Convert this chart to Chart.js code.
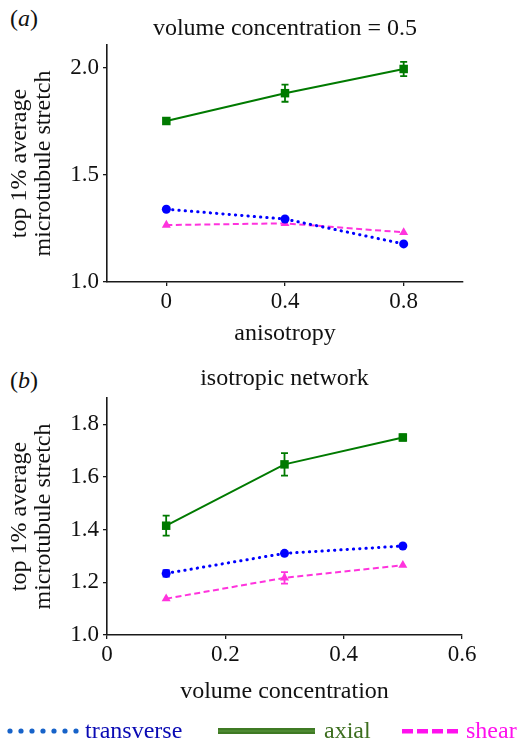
<!DOCTYPE html>
<html>
<head>
<meta charset="utf-8">
<script src="https://cdn.jsdelivr.net/npm/chart.js@4.4.1/dist/chart.umd.min.js"></script>
<style>
  html, body { margin: 0; padding: 0; background: #fff; }
  body { width: 519px; height: 747px; position: relative; overflow: hidden; font-family: "Liberation Serif", "DejaVu Serif", serif; }
  canvas { position: absolute; left: 0; }
  #ca { top: 0; }
  #cb { top: 346px; }
  .plab { position: absolute; left: 10px; font-size: 24px; color: #111; line-height: 24px; }
  .plab i { font-style: italic; }
  #legend { position: absolute; left: 0; top: 717px; width: 519px; height: 28px; }
  #legend span { position: absolute; top: 0; font-size: 24px; line-height: 26px; }
  #legend svg { position: absolute; top: 0; }
</style>
</head>
<body>
<div class="plab" style="top:6px">(<i>a</i>)</div>
<div class="plab" style="top:368px">(<i>b</i>)</div>
<canvas id="ca" width="519" height="348"></canvas>
<canvas id="cb" width="519" height="360"></canvas>
<div id="legend">
  <svg width="80" height="28" style="left:3px">
    <g fill="#1763c9">
      <circle cx="7" cy="14" r="2.6"/><circle cx="18" cy="14" r="2.6"/><circle cx="29" cy="14" r="2.6"/>
      <circle cx="40" cy="14" r="2.6"/><circle cx="51" cy="14" r="2.6"/><circle cx="62" cy="14" r="2.6"/>
      <circle cx="73" cy="14" r="2.6"/>
    </g>
  </svg>
  <span style="left:85px;color:#0a0ab4">transverse</span>
  <svg width="100" height="28" style="left:217px">
    <rect x="1" y="11" width="97" height="6" fill="#3f7a24"/>
    <line x1="1" y1="14" x2="98" y2="14" stroke="#5e9a40" stroke-width="1"/>
  </svg>
  <span style="left:324px;color:#3d6e1f">axial</span>
  <svg width="60" height="28" style="left:402px">
    <g fill="#ff10ee">
      <rect x="0" y="12" width="11" height="4.5"/><rect x="15" y="12" width="11" height="4.5"/>
      <rect x="30" y="12" width="11" height="4.5"/><rect x="45" y="12" width="11" height="4.5"/>
    </g>
  </svg>
  <span style="left:466px;color:#ff10ee">shear</span>
</div>
<script>
// ---- Data ----
const anisotropy = [0, 0.4, 0.8];
const aTransverse = [1.340, 1.294, 1.178];
const aTransverseErr = [0.005, 0.005, 0.005];
const aAxial = [1.752, 1.882, 1.995];
const aAxialErr = [0.006, 0.040, 0.033];
const aShear = [1.266, 1.274, 1.232];
const aShearErr = [0.004, 0.004, 0.004];

const volumeConcentration = [0.1, 0.3, 0.5];
const bTransverse = [1.234, 1.310, 1.338];
const bTransverseErr = [0.012, 0.006, 0.005];
const bAxial = [1.415, 1.648, 1.750];
const bAxialErr = [0.038, 0.043, 0.012];
const bShear = [1.138, 1.217, 1.265];
const bShearErr = [0.005, 0.022, 0.005];

const aXTicks = [0, 0.4, 0.8];
const aYTicks = [1.0, 1.5, 2.0];
const bXTicks = [0, 0.2, 0.4, 0.6];
const bYTicks = [1.0, 1.2, 1.4, 1.6, 1.8];

const colTransverse = '#0000ff';
const colAxial = '#007a00';
const colShear = '#ff33dd';
const FONT = '"Liberation Serif", "Times New Roman", serif';

function pts(xs, ys) { return xs.map((x, i) => ({ x: x, y: ys[i] })); }

const errorBars = {
  id: 'errorBars',
  afterDatasetsDraw(chart) {
    const ctx = chart.ctx;
    const xs = chart.scales.x, ys = chart.scales.y;
    chart.data.datasets.forEach((ds) => {
      if (!ds.err) return;
      ctx.save();
      ctx.strokeStyle = ds.borderColor;
      ctx.lineWidth = 1.8;
      ds.data.forEach((p, i) => {
        const e = ds.err[i];
        const px = xs.getPixelForValue(p.x);
        const y1 = ys.getPixelForValue(p.y + e);
        const y2 = ys.getPixelForValue(p.y - e);
        if (Math.abs(y2 - y1) < 4) return;
        ctx.beginPath();
        ctx.moveTo(px, y1); ctx.lineTo(px, y2);
        ctx.moveTo(px - 3.5, y1); ctx.lineTo(px + 3.5, y1);
        ctx.moveTo(px - 3.5, y2); ctx.lineTo(px + 3.5, y2);
        ctx.stroke();
      });
      ctx.restore();
    });
  }
};

function datasets(xs, tr, trE, ax, axE, sh, shE) {
  return [
    { label: 'transverse', data: pts(xs, tr), err: trE, borderColor: colTransverse, backgroundColor: colTransverse,
      borderWidth: 3, borderDash: [0.3, 6], borderCapStyle: 'round', pointStyle: 'circle', pointRadius: 4.5, pointBorderWidth: 0 },
    { label: 'axial', data: pts(xs, ax), err: axE, borderColor: colAxial, backgroundColor: colAxial,
      borderWidth: 2, pointStyle: 'rect', pointRadius: 6, pointBorderWidth: 0 },
    { label: 'shear', data: pts(xs, sh), err: shE, borderColor: colShear, backgroundColor: colShear,
      borderWidth: 2, borderDash: [6, 3.5], pointStyle: 'triangle', pointRadius: 5.2, pointBorderWidth: 0 }
  ];
}

function makeChart(id, cfg) {
  const axisCol = '#1a1a1a';
  return new Chart(document.getElementById(id), {
    type: 'line',
    data: { datasets: cfg.datasets },
    plugins: [errorBars],
    options: {
      responsive: false,
      devicePixelRatio: 1,
      animation: false,
      layout: { padding: { left: 0, right: cfg.rightPad, top: 0, bottom: 0 } },
      plugins: {
        legend: { display: false },
        tooltip: { enabled: false },
        title: {
          display: true, text: cfg.title, fullSize: false, color: '#111',
          font: { family: FONT, size: 24, weight: 'normal', lineHeight: 1.2 },
          padding: { top: cfg.titlePadTop, bottom: cfg.titlePadBottom }
        }
      },
      scales: {
        x: {
          type: 'linear', min: cfg.xMin, max: cfg.xMax,
          afterBuildTicks: (s) => { s.ticks = cfg.xTicks.map(v => ({ value: v })); },
          afterFit: (s) => { s.height = cfg.xHeight; },
          ticks: { color: '#111', padding: 2, font: { family: FONT, size: 23 }, maxRotation: 0,
                   callback: (v) => (v === 0 ? '0' : Number(v).toFixed(1)) },
          grid: { display: true, drawOnChartArea: false, drawTicks: true, tickLength: 4, color: axisCol, lineWidth: 1.3 },
          border: { display: true, color: axisCol, width: 1.6 },
          title: { display: true, text: cfg.xTitle, color: '#111', padding: { top: 0, bottom: 0 },
                   font: { family: FONT, size: 24, lineHeight: 1.2 } }
        },
        y: {
          type: 'linear', min: cfg.yMin, max: cfg.yMax,
          afterBuildTicks: (s) => { s.ticks = cfg.yTicks.map(v => ({ value: v })); },
          afterFit: (s) => { s.width = 107; },
          ticks: { color: '#111', padding: 4, font: { family: FONT, size: 23 },
                   callback: (v) => Number(v).toFixed(1) },
          grid: { display: true, drawOnChartArea: false, drawTicks: true, tickLength: 4, color: axisCol, lineWidth: 1.3 },
          border: { display: true, color: axisCol, width: 1.6 },
          title: { display: true, text: ['top 1% average', 'microtubule stretch'], color: '#111',
                   padding: { top: 8, bottom: 0 }, font: { family: FONT, size: 24, lineHeight: 1.0 } }
        }
      }
    }
  });
}

makeChart('ca', {
  datasets: datasets(anisotropy, aTransverse, aTransverseErr, aAxial, aAxialErr, aShear, aShearErr),
  title: 'volume concentration = 0.5', titlePadTop: 14.6, titlePadBottom: 1.6,
  xMin: -0.2, xMax: 1.0, xTicks: aXTicks, xTitle: 'anisotropy', xHeight: 66,
  yMin: 1.0, yMax: 2.107, yTicks: aYTicks, rightPad: 56
});

makeChart('cb', {
  datasets: datasets(volumeConcentration, bTransverse, bTransverseErr, bAxial, bAxialErr, bShear, bShearErr),
  title: 'isotropic network', titlePadTop: 18.6, titlePadBottom: 4.6,
  xMin: 0, xMax: 0.6, xTicks: bXTicks, xTitle: 'volume concentration', xHeight: 71,
  yMin: 1.0, yMax: 1.9, yTicks: bYTicks, rightPad: 57
});
</script>
</body>
</html>
